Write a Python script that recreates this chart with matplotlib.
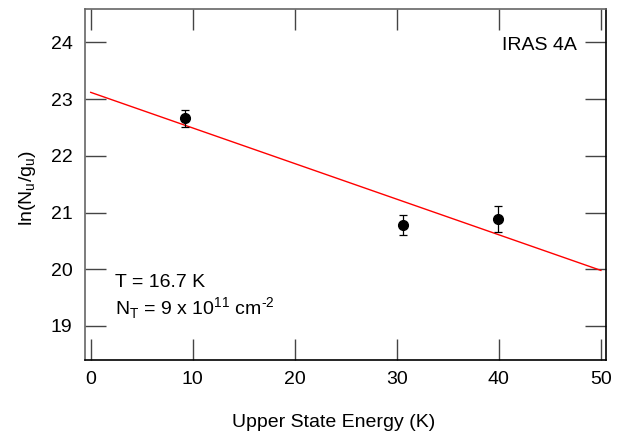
import matplotlib
matplotlib.use("Agg")
import matplotlib.pyplot as plt

plt.rcParams['font.family'] = ['Liberation Sans', 'DejaVu Sans']
plt.rcParams['mathtext.fontset'] = 'custom'
plt.rcParams['mathtext.rm'] = 'Liberation Sans'

energy = [9.2, 30.65, 39.9]
ln_nu_gu = [22.66, 20.78, 20.89]
err = [0.15, 0.17, 0.23]
fit_x = [0, 50]
fit_y = [23.12, 19.98]
xticks = [0, 10, 20, 30, 40, 50]
yticks = [19, 20, 21, 22, 23, 24]

fig = plt.figure(figsize=(6.27, 4.34), dpi=100)
ax = fig.add_axes([85/627, 1-360/434, (606-85)/627, (360-9)/434])

ax.plot(fit_x, fit_y, color='red', lw=1.0)
ax.errorbar(energy, ln_nu_gu, yerr=err, fmt='o', color='black', ms=7,
            ecolor='black', elinewidth=0.9, capsize=3, capthick=0.9)

ax.set_xlim(-0.56, 50.5)
ax.set_ylim(18.4, 24.59)
ax.set_xticks(xticks)
ax.set_yticks(yticks)
ax.tick_params(direction='in', length=15, width=1, labelsize=14,
               top=True, right=True, color='#444444')
ax.tick_params(axis='x', pad=8)
ax.tick_params(axis='y', pad=9)
for s in ax.spines.values():
    s.set_linewidth(1.2)
ax.spines['left'].set_color('#666666')
ax.spines['top'].set_color('#666666')

ax.set_xlabel('Upper State Energy (K)', fontsize=14)
ax.xaxis.set_label_coords(0.478, -0.155)
ax.set_ylabel(r'ln(N$_\mathregular{u}$/g$_\mathregular{u}$)', fontsize=14)
ax.yaxis.set_label_coords(-0.09, 0.49)

ax.text(0.944, 0.897, 'IRAS 4A', transform=ax.transAxes, ha='right', va='center', fontsize=14)
ax.text(0.058, 0.22, 'T = 16.7 K', transform=ax.transAxes, ha='left', va='center', fontsize=14)
ax.text(0.058, 0.148, r'N$_\mathregular{T}$ = 9 x 10$^\mathregular{11}$ cm$^\text{-2}$',
        transform=ax.transAxes, ha='left', va='center', fontsize=14)

fig.savefig('out.png', dpi=100)
